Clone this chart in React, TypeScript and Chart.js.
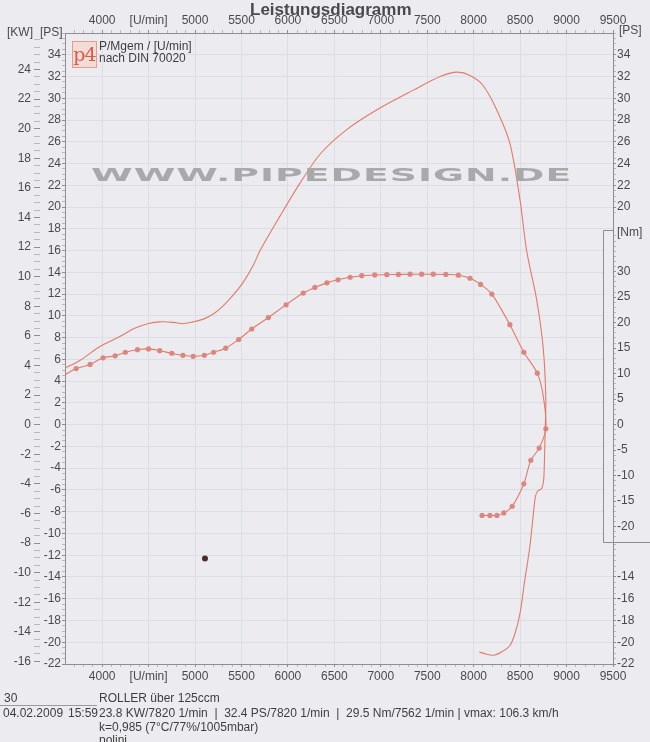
import React, { useEffect, useRef } from "react";
import { Chart, registerables } from "chart.js";

Chart.register(...registerables);

// ---------- data ----------
const rpmTicks = [4000, 4500, 5000, 5500, 6000, 6500, 7000, 7500, 8000, 8500, 9000, 9500];
const rpmLabels = ["4000", "[U/min]", "5000", "5500", "6000", "6500", "7000", "7500", "8000", "8500", "9000", "9500"];
const kwTicks = [-16, -14, -12, -10, -8, -6, -4, -2, 0, 2, 4, 6, 8, 10, 12, 14, 16, 18, 20, 22, 24];
const psTicks = [-22, -20, -18, -16, -14, -12, -10, -8, -6, -4, -2, 0, 2, 4, 6, 8, 10, 12, 14, 16, 18, 20, 22, 24, 26, 28, 30, 32, 34];
const psRightTopTicks = [34, 32, 30, 28, 26, 24, 22, 20];
const nmTicks = [30, 25, 20, 15, 10, 5, 0, -5, -10, -15, -20];
const psRightBottomTicks = [-14, -16, -18, -20, -22];

const powerRpm = [3600, 3760, 3980, 4190, 4350, 4500, 4620, 4770, 4870, 4980, 5090, 5200, 5300, 5410, 5520, 5630, 5700, 5910, 6130, 6350, 6630, 6990, 7350, 7640, 7820, 7960, 8100, 8250, 8390, 8500, 8570, 8680, 8750, 8777, 8770, 8760, 8752, 8730, 8690, 8665, 8645, 8605, 8550, 8500, 8445, 8390, 8300, 8210, 8100, 8060];
const powerPs = [5.2, 5.9, 7.2, 8.1, 8.85, 9.3, 9.45, 9.4, 9.27, 9.45, 9.7, 10.2, 10.9, 11.9, 13.1, 14.7, 16.0, 19.1, 22.2, 24.9, 27.1, 29.1, 30.75, 32.0, 32.4, 32.1, 31.2, 28.9, 25.85, 20.6, 16.0, 11.4, 6.9, 2.3, -0.5, -3.9, -5.2, -5.9, -6.1, -6.6, -8.0, -11.2, -14.3, -17.3, -19.2, -20.3, -20.9, -21.2, -21.0, -20.9];

const torqueRpm = [3600, 3720, 3870, 4010, 4140, 4250, 4380, 4500, 4620, 4750, 4870, 4980, 5100, 5200, 5330, 5470, 5610, 5790, 5980, 6165, 6290, 6420, 6540, 6670, 6795, 6935, 7065, 7190, 7315, 7440, 7565, 7700, 7835, 7960, 8075, 8195, 8300, 8390, 8540, 8685, 8750, 8777, 8705, 8615, 8540, 8415, 8325, 8250, 8175, 8090];
const torqueNm = [9.8, 11.0, 11.8, 13.1, 13.5, 14.2, 14.7, 14.85, 14.5, 14.0, 13.6, 13.4, 13.6, 14.2, 15.0, 16.7, 18.75, 21.0, 23.5, 25.8, 26.9, 27.8, 28.4, 28.9, 29.2, 29.35, 29.4, 29.45, 29.5, 29.5, 29.5, 29.45, 29.3, 28.7, 27.5, 25.6, 22.5, 19.6, 14.2, 10.1, 5.5, -0.8, -4.6, -7.0, -11.6, -16.0, -17.3, -17.8, -17.8, -17.8];
const torqueMarked = [false, true, true, true, true, true, true, true, true, true, true, true, true, true, true, true, true, true, true, true, true, true, true, true, true, true, true, true, true, true, true, true, true, true, true, true, false, true, true, true, false, true, true, true, true, true, true, true, true, true];

const speckRpm = [5107];
const speckPs = [-12.3];

// ---------- scale relations ----------
const PS_MIN = -22;
const PS_MAX = 36;
const PS_PER_KW = 1.36;
const NM_PER_PS = 2.133;
const NM_BOX_TOP = 38.2;
const NM_BOX_BOTTOM = -23.1;

const PAPER = "#ececf0";
const LINE = "#e27a69";
const DOT = "#dc877e";
const AXIS = "#8e8e94";
const GRID = "#dddde5";
const MINOR = "#b8b8bf";
const TEXT = "#4a4a4e";
const FONT = '"Liberation Sans", Arial, sans-serif';

function steps(a: number, b: number, s: number) {
  const out: number[] = [];
  for (let v = a; v <= b + 1e-9; v += s) out.push(Math.round(v * 1000) / 1000);
  return out;
}

const tickFont = { family: FONT, size: 12 };

const nmBoxPlugin = {
  id: "nmBox",
  beforeDatasetsDraw(chart: any) {
    const { ctx, chartArea } = chart;
    const yNm = chart.scales.yNm;
    const top = Math.round(yNm.getPixelForValue(NM_BOX_TOP)) + 0.5;
    const bottom = Math.round(yNm.getPixelForValue(NM_BOX_BOTTOM)) + 0.5;
    const left = Math.round(chartArea.right - 10) + 0.5;
    ctx.save();
    ctx.fillStyle = PAPER;
    ctx.fillRect(left, top, chartArea.right - left - 1, bottom - top);
    ctx.strokeStyle = AXIS;
    ctx.lineWidth = 1;
    ctx.beginPath();
    ctx.moveTo(chartArea.right, top);
    ctx.lineTo(left, top);
    ctx.lineTo(left, bottom);
    ctx.lineTo(chart.width, bottom);
    ctx.stroke();
    ctx.restore();
  },
};

export default function App() {
  const canvasRef = useRef<HTMLCanvasElement>(null);
  const wmRef = useRef<HTMLSpanElement>(null);

  useEffect(() => {
    document.body.style.margin = "0";
    document.body.style.background = PAPER;
    const wm = wmRef.current;
    if (wm) {
      const w = wm.offsetWidth;
      wm.style.transform = `scaleX(${482 / w})`;
    }

    const xTickBuilder = (scale: any) => {
      const majors = new Set(rpmTicks);
      scale.ticks = steps(3700, 9500, 100).map((v) => ({
        value: v,
        mj: majors.has(v),
        txt: majors.has(v) ? rpmLabels[rpmTicks.indexOf(v)] : "",
      }));
    };
    const labelCb = (_v: any, i: number, ticks: any[]) => (ticks[i] && ticks[i].txt) || "";
    const tickColorFn = (c: any) => (c.tick && c.tick.mj ? AXIS : MINOR);

    const chart = new Chart(canvasRef.current as HTMLCanvasElement, {
      type: "line",
      data: {
        datasets: [
          {
            label: "P [PS]",
            data: powerRpm.map((x, i) => ({ x, y: powerPs[i] })),
            yAxisID: "yPS",
            borderColor: LINE,
            borderWidth: 1.1,
            pointRadius: 0,
            tension: 0.3,
            fill: false,
          },
          {
            label: "M [Nm]",
            data: torqueRpm.map((x, i) => ({ x, y: torqueNm[i] })),
            yAxisID: "yNm",
            borderColor: LINE,
            borderWidth: 1.1,
            pointRadius: (c: any) => (torqueMarked[c.dataIndex] ? 2.6 : 0),
            pointBackgroundColor: DOT,
            pointBorderWidth: 0,
            tension: 0.3,
            fill: false,
          },
          {
            label: "speck",
            data: speckRpm.map((x, i) => ({ x, y: speckPs[i] })),
            yAxisID: "yPS",
            showLine: false,
            pointRadius: 3,
            pointBackgroundColor: "#4a2c24",
            pointBorderWidth: 0,
          },
        ],
      } as any,
      options: {
        responsive: false,
        animation: false,
        events: [],
        devicePixelRatio: 1,
        layout: { padding: 0 },
        plugins: {
          legend: { display: false },
          tooltip: { enabled: false },
          title: { display: false },
        },
        scales: {
          x: {
            type: "linear",
            position: "bottom",
            min: 3600,
            max: 9500,
            afterBuildTicks: xTickBuilder,
            afterFit: (s: any) => { s.height = 28; },
            ticks: { autoSkip: false, maxRotation: 0, callback: labelCb, font: tickFont, color: TEXT, padding: 2 },
            grid: {
              color: (c: any) => (c.tick && c.tick.mj ? GRID : "rgba(0,0,0,0)"),
              tickColor: tickColorFn,
              tickLength: 3,
            },
            border: { color: AXIS },
          },
          xTop: {
            type: "linear",
            position: "top",
            min: 3600,
            max: 9500,
            afterBuildTicks: xTickBuilder,
            afterFit: (s: any) => { s.height = 33; },
            ticks: { autoSkip: false, maxRotation: 0, callback: labelCb, font: tickFont, color: TEXT, padding: 2 },
            grid: { drawOnChartArea: false, tickColor: tickColorFn, tickLength: 3 },
            border: { color: AXIS },
          },
          yPS: {
            type: "linear",
            position: "left",
            weight: 0,
            min: PS_MIN,
            max: PS_MAX,
            afterBuildTicks: (scale: any) => {
              const majors = new Set(psTicks);
              scale.ticks = steps(PS_MIN, PS_MAX, 0.5).map((v) => ({ value: v, mj: majors.has(v), txt: majors.has(v) ? String(v) : "" }));
            },
            afterFit: (s: any) => { s.width = 25; },
            ticks: { autoSkip: false, callback: labelCb, font: tickFont, color: TEXT, padding: 1 },
            grid: {
              color: (c: any) => (c.tick && c.tick.mj ? GRID : "rgba(0,0,0,0)"),
              tickColor: tickColorFn,
              tickLength: 3,
            },
            border: { color: AXIS },
          },
          yKW: {
            type: "linear",
            position: "left",
            weight: 1,
            min: PS_MIN / PS_PER_KW,
            max: PS_MAX / PS_PER_KW,
            afterBuildTicks: (scale: any) => {
              const majors = new Set(kwTicks);
              scale.ticks = steps(-16, 26, 0.5).map((v) => ({ value: v, mj: majors.has(v), txt: majors.has(v) ? String(v) : "" }));
            },
            afterFit: (s: any) => { s.width = 40; },
            ticks: { autoSkip: false, callback: labelCb, font: tickFont, color: TEXT, padding: 3 },
            grid: { drawOnChartArea: false, tickColor: tickColorFn, tickLength: 6 },
            border: { display: false },
          },
          yNm: {
            type: "linear",
            display: false,
            min: PS_MIN * NM_PER_PS,
            max: PS_MAX * NM_PER_PS,
          },
          yR: {
            type: "linear",
            position: "right",
            min: PS_MIN,
            max: PS_MAX,
            afterBuildTicks: (scale: any) => {
              const list: any[] = [];
              const topMaj = new Set(psRightTopTicks);
              steps(19.5, PS_MAX, 0.5).forEach((v) => list.push({ value: v, mj: topMaj.has(v), txt: topMaj.has(v) ? String(v) : "" }));
              const nmMaj = new Set(nmTicks);
              steps(-22, 37, 1).forEach((n) => list.push({ value: n / NM_PER_PS, mj: nmMaj.has(n), txt: nmMaj.has(n) ? String(n) : "" }));
              const botMaj = new Set(psRightBottomTicks);
              steps(PS_MIN, -11, 0.5).forEach((v) => list.push({ value: v, mj: botMaj.has(v), txt: botMaj.has(v) ? String(v) : "" }));
              list.sort((a, b) => a.value - b.value);
              scale.ticks = list;
            },
            afterFit: (s: any) => { s.width = 37; },
            ticks: { autoSkip: false, callback: labelCb, font: tickFont, color: TEXT, padding: 1 },
            grid: { drawOnChartArea: false, tickColor: tickColorFn, tickLength: 3 },
            border: { color: AXIS },
          },
        },
      } as any,
      plugins: [nmBoxPlugin],
    });
    return () => chart.destroy();
  }, []);

  const txt: React.CSSProperties = {
    position: "absolute",
    fontFamily: FONT,
    fontSize: 12,
    lineHeight: "14px",
    color: "#3e3e42",
    whiteSpace: "nowrap",
  };

  return (
    <div style={{ position: "relative", width: 650, height: 742, background: PAPER, overflow: "hidden" }}>
      <canvas ref={canvasRef} width={650} height={692} style={{ position: "absolute", left: 0, top: 0, width: 650, height: 692 }} />

      <div style={{ ...txt, left: 250, top: 0, fontSize: 17, lineHeight: "20px", fontWeight: "bold", color: "#4a4a4e" }}>Leistungsdiagramm</div>
      <div style={{ ...txt, left: 7, top: 25, color: TEXT }}>[KW]</div>
      <div style={{ ...txt, left: 40, top: 25, color: TEXT }}>[PS]</div>
      <div style={{ ...txt, left: 619, top: 23, color: TEXT }}>[PS]</div>
      <div style={{ ...txt, left: 617, top: 225, color: TEXT }}>[Nm]</div>

      <div
        style={{
          position: "absolute",
          left: 72,
          top: 41,
          width: 23,
          height: 25,
          border: "1px solid #e59c8e",
          background: "#f1dcd7",
          color: "#dc5a48",
          fontFamily: '"DejaVu Serif", serif',
          fontSize: 19,
          lineHeight: "25px",
          textAlign: "center",
          letterSpacing: -1,
        }}
      >
        p4
      </div>
      <div style={{ ...txt, left: 99, top: 40, lineHeight: "12px" }}>P/Mgem / [U/min]</div>
      <div style={{ ...txt, left: 99, top: 52, lineHeight: "12px" }}>nach DIN 70020</div>

      <div style={{ position: "absolute", left: 91, top: 164, width: 482, height: 22, overflow: "visible", pointerEvents: "none" }}>
        <span
          ref={wmRef}
          style={{
            display: "inline-block",
            transformOrigin: "0 0",
            fontFamily: '"DejaVu Sans", sans-serif',
            fontWeight: "bold",
            fontSize: 18,
            lineHeight: "22px",
            color: "#a9a9ac",
            whiteSpace: "nowrap",
            letterSpacing: 0.5,
          }}
        >
          WWW.PIPEDESIGN.DE
        </span>
      </div>

      <div style={{ ...txt, left: 4, top: 691 }}>30</div>
      <div style={{ position: "absolute", left: 0, top: 705, width: 97, borderTop: "1px solid #9a9a9e" }} />
      <div style={{ ...txt, left: 99, top: 691 }}>ROLLER über 125ccm</div>
      <div style={{ ...txt, left: 3, top: 706 }}>04.02.2009</div>
      <div style={{ ...txt, left: 68, top: 706 }}>15:59</div>
      <div style={{ ...txt, left: 99, top: 706 }}>
        23.8 KW/7820 1/min&nbsp; |&nbsp; 32.4 PS/7820 1/min&nbsp; |&nbsp; 29.5 Nm/7562 1/min | vmax: 106.3 km/h
      </div>
      <div style={{ ...txt, left: 99, top: 720 }}>k=0,985 (7°C/77%/1005mbar)</div>
      <div style={{ ...txt, left: 99, top: 733 }}>polini</div>
    </div>
  );
}
